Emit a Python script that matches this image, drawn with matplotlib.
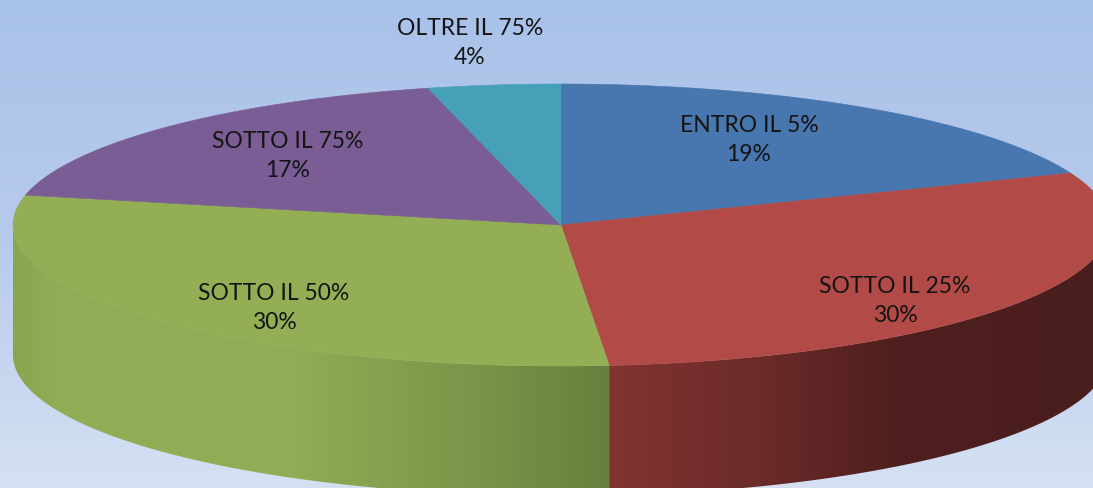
import numpy as np
import matplotlib
matplotlib.use("Agg")
import matplotlib.pyplot as plt
from matplotlib.colors import LinearSegmentedColormap, to_rgb
from matplotlib.patches import Polygon

categories = ["ENTRO IL 5%", "SOTTO IL 25%", "SOTTO IL 50%", "SOTTO IL 75%", "OLTRE IL 75%"]
percent_labels = [19, 30, 30, 17, 4]
shares = [19.0, 29.6, 29.8, 17.7, 3.9]
top_colors = ["#4876ae", "#b24b48", "#93ae55", "#795d94", "#45a0b8"]
label_xy = [(749, 140), (895, 301), (274, 308), (288, 156), (470, 43)]

W, H = 1093, 489
CX, CY, RX, RY, DEPTH = 561, 226, 548, 141, 130

fig = plt.figure(figsize=(W / 100, H / 100), dpi=100)
ax = fig.add_axes([0, 0, 1, 1])
ax.set_xlim(0, W)
ax.set_ylim(H, 0)
ax.axis("off")

bg = LinearSegmentedColormap.from_list("bg", ["#a9c2e9", "#b7cbec", "#d5e1f3"])
ax.imshow(np.linspace(0, 1, 256)[:, None], cmap=bg, extent=[0, W, H, 0], aspect="auto", zorder=0)


def pt(t, dy=0.0):
    return CX + RX * np.sin(t), CY - RY * np.cos(t) + dy


side_stops = {
    2: ([13, 60, 300, 480, 608], ["#8aa550", "#91ad55", "#90ac54", "#7a9449", "#67803e"]),
    1: ([608, 760, 900, 1093], ["#83332f", "#6b2b2a", "#4e1f1e", "#4a1e1d"]),
}

edges = np.deg2rad(np.cumsum([0] + shares) * 3.6)

# side wall: only the front of the ellipse is visible; a horizontal gradient clipped to its outline
for i, (xs_stop, cs_stop) in side_stops.items():
    a = max(edges[i], np.pi / 2)
    b = min(edges[i + 1], 3 * np.pi / 2)
    ts = np.linspace(a, b, 400)
    x, y = pt(ts)
    outline = np.c_[np.r_[x, x[::-1]], np.r_[y, y[::-1] + DEPTH]]
    poly = Polygon(outline, closed=True, facecolor="none", edgecolor="none", transform=ax.transData)
    ax.add_patch(poly)
    x0, x1 = x.min(), x.max()
    grid = np.linspace(x0, x1, 512)
    rgb = np.array([to_rgb(c) for c in cs_stop])
    strip = np.stack([np.interp(grid, xs_stop, rgb[:, k]) for k in range(3)], axis=1)[None, :, :]
    im = ax.imshow(strip, extent=[x0, x1, H + 40, 0], aspect="auto", zorder=2, interpolation="bilinear")
    im.set_clip_path(poly)

# top surface
for i, col in enumerate(top_colors):
    ts = np.linspace(edges[i], edges[i + 1], 200)
    xs, ys = pt(ts)
    ax.fill(np.r_[CX, xs], np.r_[CY, ys], facecolor=col, edgecolor=col, lw=0.4, zorder=3)

ax.set_xlim(0, W)
ax.set_ylim(H, 0)

for name, v, (x, y) in zip(categories, percent_labels, label_xy):
    ax.text(x, y, f"{name}\n{v}%", ha="center", va="center", fontsize=16.5,
            family="Lato", color="#141414", linespacing=1.47, zorder=5)

fig.savefig("out.png", dpi=100)
